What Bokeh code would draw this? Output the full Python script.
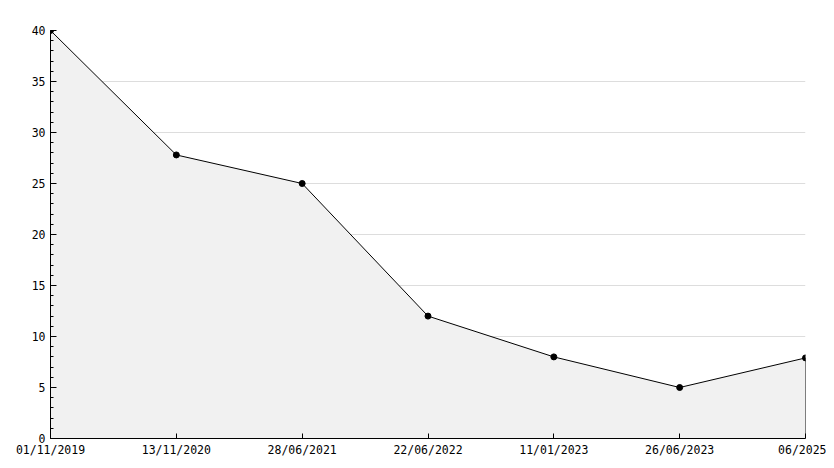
from bokeh.plotting import figure
from bokeh.models import Range1d, FixedTicker, SingleIntervalTicker
from bokeh.embed import file_html
from bokeh.resources import INLINE

dates = ["01/11/2019", "13/11/2020", "28/06/2021", "22/06/2022", "11/01/2023", "26/06/2023", "06/2025"]
values = [40, 27.8, 25, 12, 8, 5, 7.9]

x = list(range(len(dates)))

p = figure(width=826, height=460, output_backend="svg", toolbar_location=None,
           x_range=Range1d(x[0], x[-1]), y_range=Range1d(0, 40),
           min_border_left=50, min_border_right=21, min_border_top=30, min_border_bottom=22)
p.outline_line_color = None
p.background_fill_color = "white"

# area
p.varea(x=x, y1=[0] * len(x), y2=values, fill_color="#f1f1f1")
p.segment(x0=[x[-1]], y0=[0], x1=[x[-1]], y1=[values[-1]], line_color="black", line_width=1)
p.line(x, values, line_color="black", line_width=1)
p.scatter(x, values, size=6, marker="circle", fill_color="black", line_color="black")

font = "DejaVu Sans Mono"

p.xaxis.ticker = FixedTicker(ticks=x)
p.xaxis.major_label_overrides = {i: d for i, d in zip(x, dates)}
p.yaxis.ticker = SingleIntervalTicker(interval=5, num_minor_ticks=5)

for ax in (p.xaxis, p.yaxis):
    ax.axis_line_color = "black"
    ax.major_tick_line_color = "black"
    ax.minor_tick_line_color = "black"
    ax.major_tick_out = 0
    ax.minor_tick_out = 0
    ax.major_label_text_font = font
    ax.major_label_text_font_size = "11.5px"
    ax.major_label_text_color = "black"

p.xaxis.major_tick_in = 5
p.xaxis.minor_tick_line_color = None
p.xaxis.major_label_standoff = 4
p.yaxis.major_tick_in = 6
p.yaxis.minor_tick_in = 3
p.yaxis.major_label_standoff = 5

p.xgrid.grid_line_color = None
p.ygrid.grid_line_color = "#dddddd"
p.ygrid.level = "underlay"

open("out.html", "w").write(file_html(p, INLINE))
